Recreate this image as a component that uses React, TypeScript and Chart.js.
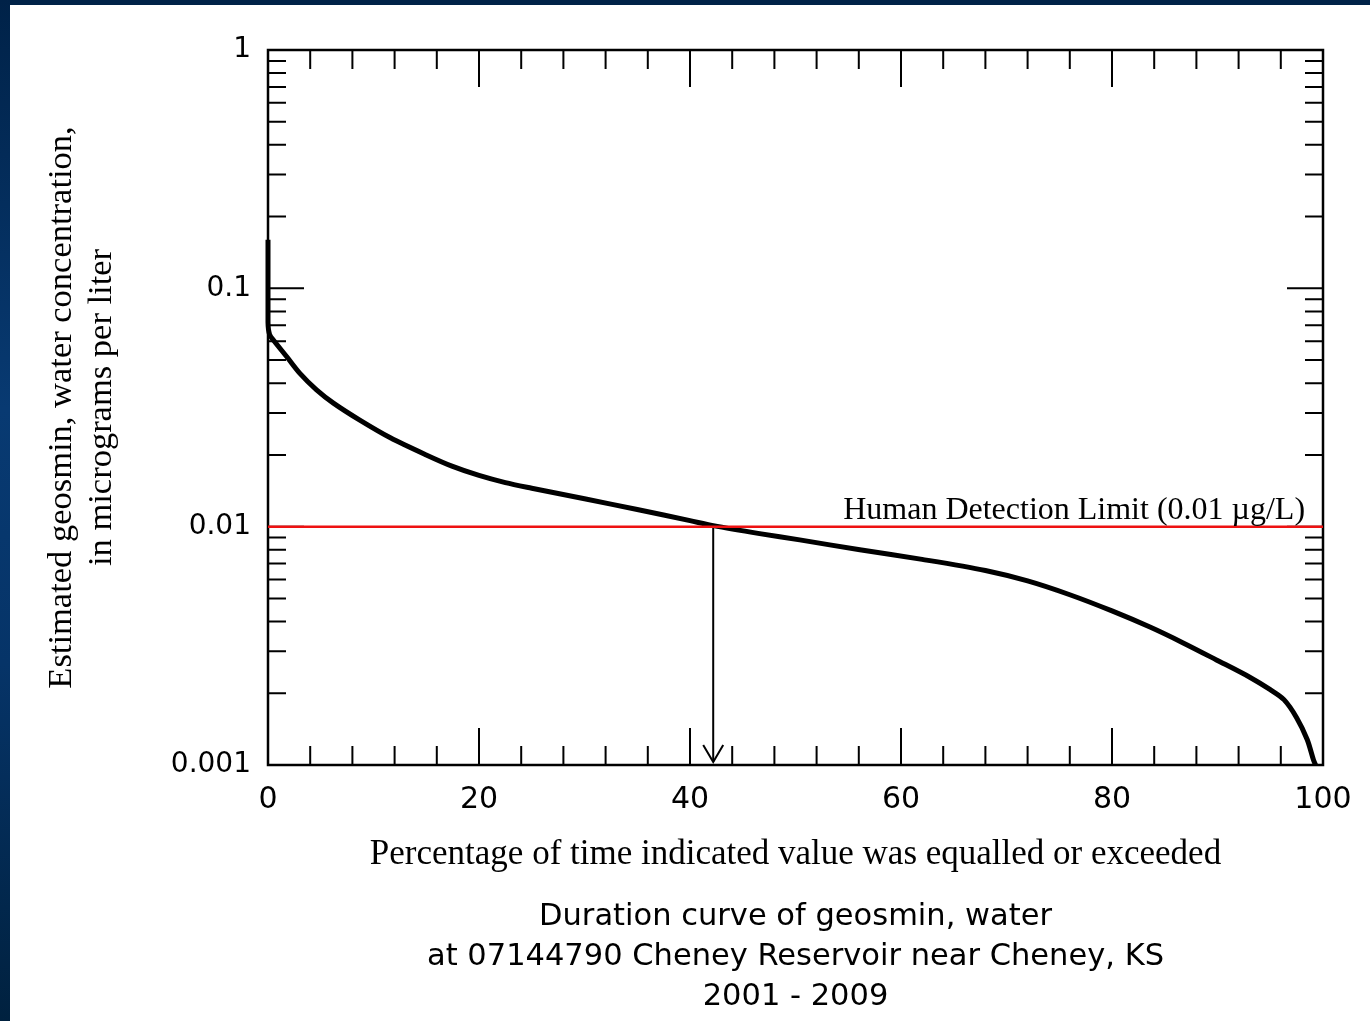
import { useEffect, useRef } from "react";
import { Chart, registerables } from "chart.js";

Chart.register(...registerables);

// Flow-duration style curve of estimated geosmin concentration
const DURATION_PCT = [
  0, 0, 0.15, 0.6, 1.8, 3.0, 4.6, 6.2, 8.7, 11.6, 15, 17.5, 20, 22.5, 25, 30,
  35, 40, 42.2, 46.6, 50.4, 56.1, 62, 68, 72, 76, 80, 83.6, 86.7, 89.9, 93.1,
  95.0, 96.3, 97.5, 98.5, 99.1, 99.3,
];
const GEOSMIN_UG_L = [
  0.16, 0.072, 0.064, 0.06, 0.0515, 0.0441, 0.0375, 0.033, 0.028, 0.0236,
  0.02, 0.0179, 0.0164, 0.0153, 0.0145, 0.0131, 0.0118, 0.0106, 0.0101,
  0.00935, 0.0088, 0.008, 0.00729, 0.00655, 0.00592, 0.00518, 0.00443,
  0.00379, 0.00326, 0.00276, 0.00233, 0.00207, 0.00188, 0.00158, 0.00128,
  0.00105, 0.001,
];

// Detection limit and the share of time it is reached
const DETECTION_LIMIT = 0.01;
const LIMIT_EXCEEDED_PCT = 42.2;
const ARROW_FLOOR = 0.00103;
const LIMIT_LABEL = "Human Detection Limit (0.01 \u00b5g/L)";
const LIMIT_LABEL_AT_PCT = 98.3;

// Axis ticks
const X_TICK_VALUES = [
  0, 4, 8, 12, 16, 20, 24, 28, 32, 36, 40, 44, 48, 52, 56, 60, 64, 68, 72, 76,
  80, 84, 88, 92, 96, 100,
];
const X_LABELLED = [0, 20, 40, 60, 80, 100];
const X_TICK_LABELS = ["0", "20", "40", "60", "80", "100"];
const Y_DECADES = [0.001, 0.01, 0.1, 1];
const Y_DECADE_LABELS = ["0.001", "0.01", "0.1", "1"];
const Y_MINOR_MULTIPLIERS = [2, 3, 4, 5, 6, 7, 8, 9];

const X_TITLE = "Percentage of time indicated value was equalled or exceeded";
const Y_TITLE = [
  "Estimated geosmin, water concentration,",
  "in micrograms per liter",
];
const CAPTION = [
  "Duration curve of geosmin, water",
  "at 07144790 Cheney Reservoir near Cheney, KS",
  "2001 - 2009",
];

const SANS = '"DejaVu Sans", sans-serif';
const SERIF = '"Liberation Serif", "Times New Roman", serif';

const yTickList = () => {
  const list: { value: number; major: boolean }[] = [];
  Y_DECADES.forEach((d, i) => {
    list.push({ value: d, major: true });
    if (i < Y_DECADES.length - 1) {
      Y_MINOR_MULTIPLIERS.forEach((m) =>
        list.push({ value: Number((d * m).toPrecision(6)), major: false })
      );
    }
  });
  return list;
};

// Inward tick marks on all four sides plus the plot frame
const frameAndTicks = {
  id: "frameAndTicks",
  beforeDatasetsDraw(chart: any) {
    const { ctx, chartArea } = chart;
    const { left, right, top, bottom } = chartArea;
    const xs = chart.scales.x;
    const ys = chart.scales.y;
    ctx.save();
    ctx.strokeStyle = "#000";
    ctx.lineWidth = 2;
    ctx.beginPath();
    for (const t of xs.ticks) {
      const px = xs.getPixelForValue(t.value);
      const len = X_LABELLED.includes(t.value) ? 37 : 19;
      ctx.moveTo(px, bottom);
      ctx.lineTo(px, bottom - len);
      ctx.moveTo(px, top);
      ctx.lineTo(px, top + len);
    }
    for (const t of ys.ticks) {
      const py = ys.getPixelForValue(t.value);
      const len = Y_DECADES.includes(t.value) ? 36 : 18;
      ctx.moveTo(left, py);
      ctx.lineTo(left + len, py);
      ctx.moveTo(right, py);
      ctx.lineTo(right - len, py);
    }
    ctx.stroke();
    ctx.lineWidth = 2.5;
    ctx.strokeRect(left, top, right - left, bottom - top);
    ctx.restore();
  },
  afterDatasetsDraw(chart: any) {
    const { ctx } = chart;
    const xs = chart.scales.x;
    const ys = chart.scales.y;
    const arrow = chart.getDatasetMeta(2).data;
    const tip = arrow[arrow.length - 1];
    ctx.save();
    ctx.strokeStyle = "#000";
    ctx.lineWidth = 2;
    ctx.beginPath();
    ctx.moveTo(tip.x - 10, tip.y - 17);
    ctx.lineTo(tip.x, tip.y);
    ctx.lineTo(tip.x + 10, tip.y - 17);
    ctx.stroke();

    ctx.fillStyle = "#000";
    ctx.font = `32px ${SERIF}`;
    ctx.textAlign = "right";
    ctx.textBaseline = "alphabetic";
    ctx.fillText(
      LIMIT_LABEL,
      xs.getPixelForValue(LIMIT_LABEL_AT_PCT),
      ys.getPixelForValue(DETECTION_LIMIT) - 8
    );
    ctx.restore();
  },
};

export default function App() {
  const canvasRef = useRef<HTMLCanvasElement | null>(null);

  useEffect(() => {
    const canvas = canvasRef.current;
    if (!canvas) return;
    const curve = DURATION_PCT.map((x, i) => ({ x, y: GEOSMIN_UG_L[i] }));

    const chart = new Chart(canvas, {
      type: "line",
      data: {
        datasets: [
          {
            data: curve,
            borderColor: "#000",
            borderWidth: 5,
            pointRadius: 0,
            tension: 0.3,
            clip: false,
            order: 2,
          },
          {
            data: [
              { x: 0, y: DETECTION_LIMIT },
              { x: 100, y: DETECTION_LIMIT },
            ],
            borderColor: "#ee1111",
            borderWidth: 2.5,
            pointRadius: 0,
            order: 0,
          },
          {
            data: [
              { x: LIMIT_EXCEEDED_PCT, y: DETECTION_LIMIT },
              { x: LIMIT_EXCEEDED_PCT, y: ARROW_FLOOR },
            ],
            borderColor: "#000",
            borderWidth: 2,
            pointRadius: 0,
            order: 1,
          },
        ],
      },
      options: {
        animation: false,
        responsive: false,
        devicePixelRatio: 1,
        layout: { padding: { left: 0, right: 47, top: 50, bottom: 0 } },
        plugins: {
          legend: { display: false },
          tooltip: { enabled: false },
          title: {
            display: true,
            position: "bottom",
            fullSize: false,
            text: CAPTION,
            color: "#000",
            font: { family: SANS, size: 30.5, weight: "normal", lineHeight: 40 / 30.5 },
            padding: { top: 0, bottom: 4 },
          },
        },
        scales: {
          x: {
            type: "linear",
            min: 0,
            max: 100,
            grid: { display: false, drawTicks: false, tickLength: 0 },
            border: { display: false },
            afterBuildTicks: (scale: any) => {
              scale.ticks = X_TICK_VALUES.map((value) => ({ value }));
            },
            afterFit: (scale: any) => {
              scale.height = 132;
            },
            ticks: {
              autoSkip: false,
              maxRotation: 0,
              padding: 17,
              color: "#000",
              font: { family: SANS, size: 30 },
              callback: (value: any) => {
                const i = X_LABELLED.indexOf(Number(value));
                return i >= 0 ? X_TICK_LABELS[i] : "";
              },
            },
            title: {
              display: true,
              text: X_TITLE,
              color: "#000",
              font: { family: SERIF, size: 35, lineHeight: 1.2 },
              padding: { top: 0, bottom: 21 },
            },
          },
          y: {
            type: "logarithmic",
            min: 0.001,
            max: 1,
            grid: { display: false, drawTicks: false, tickLength: 0 },
            border: { display: false },
            afterBuildTicks: (scale: any) => {
              scale.ticks = yTickList();
            },
            afterFit: (scale: any) => {
              scale.width = 268;
            },
            ticks: {
              autoSkip: false,
              padding: 17,
              color: "#000",
              font: { family: SANS, size: 28 },
              callback: (value: any) => {
                const i = Y_DECADES.indexOf(Number(value));
                return i >= 0 ? Y_DECADE_LABELS[i] : "";
              },
            },
            title: {
              display: true,
              text: Y_TITLE,
              color: "#000",
              font: { family: SERIF, size: 34.5, lineHeight: 40 / 34.5 },
              padding: { top: 42, bottom: 0 },
            },
          },
        },
      },
      plugins: [frameAndTicks],
    } as any);

    return () => chart.destroy();
  }, []);

  return (
    <div
      style={{
        position: "absolute",
        left: 0,
        top: 0,
        width: 1370,
        height: 1021,
        background: "#fff",
        overflow: "hidden",
      }}
    >
      <canvas
        ref={canvasRef}
        width={1370}
        height={1021}
        style={{ position: "absolute", left: 0, top: 0, display: "block" }}
      />
      <div
        style={{
          position: "absolute",
          left: 0,
          top: 0,
          width: 1370,
          height: 5,
          background: "#002248",
          zIndex: 1,
        }}
      />
      <div
        style={{
          position: "absolute",
          left: 0,
          top: 0,
          width: 10,
          height: 1021,
          background:
            "linear-gradient(to bottom, #002248 0%, #083a72 40%, #063468 65%, #00213f 100%)",
          zIndex: 1,
        }}
      />
    </div>
  );
}
